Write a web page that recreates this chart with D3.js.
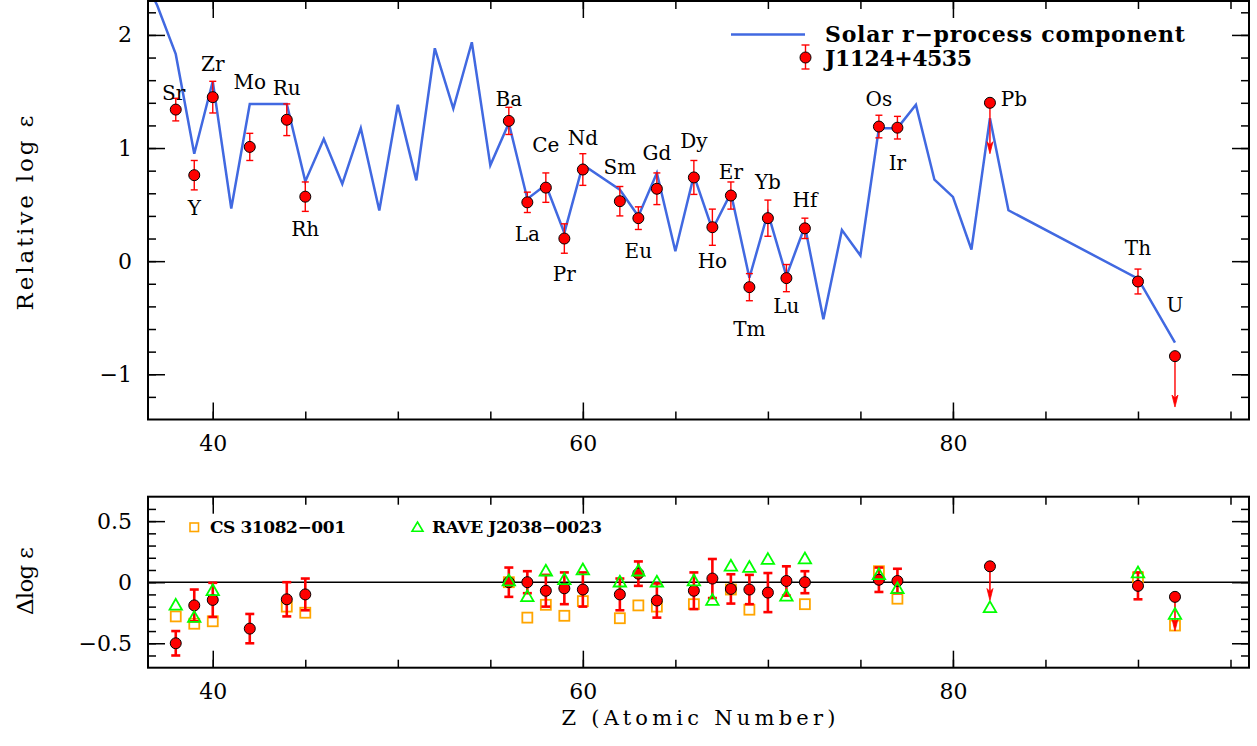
<!DOCTYPE html>
<html>
<head>
<meta charset="utf-8">
<script src="https://cdn.jsdelivr.net/npm/d3@7"></script>
<style>
  body { margin: 0; background: #fff; }
  svg { display: block; font-family: 'DejaVu Serif', serif; }
</style>
</head>
<body>
<svg id="chart" width="1257" height="746"></svg>
<script>
// J1124+4535 abundances, relative to the solar r-process pattern
const elements = ['Sr', 'Y', 'Zr', 'Mo', 'Ru', 'Rh', 'Ba', 'La', 'Ce', 'Pr', 'Nd', 'Sm', 'Eu', 'Gd', 'Dy', 'Ho', 'Er', 'Tm', 'Yb', 'Lu', 'Hf', 'Os', 'Ir', 'Pb', 'Th', 'U']
const atomicNumbers = [38, 39, 40, 42, 44, 45, 56, 57, 58, 59, 60, 62, 63, 64, 66, 67, 68, 69, 70, 71, 72, 76, 77, 82, 90, 92]
const relLogEps = [1.34, 0.76, 1.45, 1.01, 1.25, 0.57, 1.24, 0.52, 0.65, 0.20, 0.81, 0.53, 0.38, 0.64, 0.74, 0.30, 0.58, -0.23, 0.38, -0.15, 0.29, 1.19, 1.18, 1.40, -0.18, -0.84]
const relErr = [0.10, 0.13, 0.14, 0.12, 0.14, 0.13, 0.12, 0.09, 0.13, 0.13, 0.14, 0.13, 0.10, 0.14, 0.15, 0.16, 0.12, 0.12, 0.16, 0.12, 0.09, 0.10, 0.10, 0, 0.11, 0]
const upperLimits = ['Pb', 'U']

// solar r-process component (scaled)
const solarZ = [36, 37, 38, 39, 40, 41, 42, 44, 45, 46, 47, 48, 49, 50, 51, 52, 53, 54, 55, 56, 57, 58, 59, 60, 62, 63, 64, 65, 66, 67, 68, 69, 70, 71, 72, 73, 74, 75, 76, 77, 78, 79, 80, 81, 82, 83, 90, 92]
const solarLogEps = [2.60, 2.26, 1.83, 0.95, 1.59, 0.465, 1.39, 1.39, 0.705, 1.08, 0.683, 1.176, 0.447, 1.382, 0.714, 1.882, 1.349, 1.935, 0.847, 1.22, 0.55, 0.676, 0.25, 0.853, 0.632, 0.397, 0.78, 0.088, 0.758, 0.28, 0.603, -0.147, 0.427, -0.132, 0.309, -0.514, 0.275, 0.05, 1.176, 1.176, 1.382, 0.72, 0.568, 0.103, 1.264, 0.45, -0.155, -0.72]

// differences in the lower panel
const deltaJ1124 = [-0.50, -0.19, -0.145, -0.38, -0.14, -0.10, 0.00, 0.00, -0.07, -0.05, -0.06, -0.10, 0.07, -0.15, -0.07, 0.03, -0.055, -0.06, -0.085, 0.01, 0.00, 0.02, 0.01, 0.13, -0.03, -0.12]
const csZ = [38, 39, 40, 44, 45, 56, 57, 58, 59, 60, 62, 63, 64, 66, 68, 69, 72, 76, 77, 90, 92]
const csDelta = [-0.28, -0.34, -0.32, -0.20, -0.25, 0.00, -0.29, -0.185, -0.275, -0.155, -0.295, -0.19, -0.20, -0.18, -0.06, -0.225, -0.18, 0.09, -0.135, 0.04, -0.355]
const raveZ = [38, 39, 40, 56, 57, 58, 59, 60, 62, 63, 64, 66, 67, 68, 69, 70, 71, 72, 76, 77, 82, 90, 92]
const raveDelta = [-0.19, -0.29, -0.07, 0.01, -0.12, 0.09, 0.02, 0.10, 0.00, 0.09, 0.00, 0.01, -0.15, 0.13, 0.12, 0.185, -0.115, 0.19, 0.06, -0.055, -0.21, 0.075, -0.265]

// label placement around each point (pixels)
const labelDx = [-2, 0, 0, 0, 0, 0, 0, 0, 0, 0, 0, 0, 0, 0, 0, 0, 0, 0, 0, 0, 0, 0, 0, 24, 0, 0]
const labelDy = [-17, 33, -33, -65, -32, 32, -22, 31, -43, 35, -32, -34, 33, -36, -37, 34, -24, 42, -36, 28, -29, -28, 35, -4, -34, -51]

const RED = '#ff0000'
const BLUE = '#4169e1'
const ORANGE = '#ffa500'
const GREEN = '#00ff00'

const svg = d3.select('#chart')

const x = d3.scaleLinear().domain([36.5, 96]).range([148, 1249])
const yTop = d3.scaleLinear().domain([-1.4, 2.3]).range([419.5, 1])
const yBot = d3.scaleLinear().domain([-0.7, 0.7]).range([667.7, 496.7])

const stars = elements.map((el, i) => ({
  el,
  z: atomicNumbers[i],
  v: relLogEps[i],
  err: relErr[i],
  delta: deltaJ1124[i],
  limit: upperLimits.includes(el),
  dx: labelDx[i],
  dy: labelDy[i]
}))

function frame (y, majors, minors, fmt) {
  const [x0, x1] = x.range()
  const [yb, yt] = y.range()
  const g = svg.append('g')
  const xMajor = [40, 60, 80]
  const xMinor = d3.range(40, 96, 5)

  const ax = (axis, tx, ty) => g.append('g').attr('transform', `translate(${tx},${ty})`).call(axis)

  ax(d3.axisBottom(x).tickValues(xMinor).tickSize(-8).tickFormat(''), 0, yb)
  ax(d3.axisBottom(x).tickValues(xMajor).tickSize(-17).tickPadding(16).tickFormat(d3.format('d')), 0, yb)
  ax(d3.axisTop(x).tickValues(xMinor).tickSize(-8).tickFormat(''), 0, yt)
  ax(d3.axisTop(x).tickValues(xMajor).tickSize(-17).tickFormat(''), 0, yt)
  ax(d3.axisLeft(y).tickValues(minors).tickSize(-8).tickFormat(''), x0, 0)
  ax(d3.axisLeft(y).tickValues(majors).tickSize(-17).tickPadding(16).tickFormat(fmt), x0, 0)
  ax(d3.axisRight(y).tickValues(minors).tickSize(-8).tickFormat(''), x1, 0)
  ax(d3.axisRight(y).tickValues(majors).tickSize(-17).tickFormat(''), x1, 0)

  g.selectAll('.domain').remove()
  g.selectAll('.tick line').attr('stroke', '#000').attr('stroke-width', 1.5)
  g.selectAll('.tick text')
    .attr('font-family', "'DejaVu Serif', serif")
    .attr('font-size', 22)
    .attr('fill', '#000')

  g.append('rect')
    .attr('x', x0).attr('y', yt)
    .attr('width', x1 - x0).attr('height', yb - yt)
    .attr('fill', 'none')
    .attr('stroke', '#000')
    .attr('stroke-width', 2)
}

function errorBars (g, data, y, val, width, cap) {
  const bars = g.selectAll(null)
    .data(data.filter(d => !d.limit && d.err > 0))
    .enter()
    .append('g')
    .attr('stroke', RED)
    .attr('stroke-width', width)

  bars.append('line')
    .attr('x1', d => x(d.z)).attr('x2', d => x(d.z))
    .attr('y1', d => y(val(d) - d.err)).attr('y2', d => y(val(d) + d.err))
  bars.append('line')
    .attr('x1', d => x(d.z) - cap).attr('x2', d => x(d.z) + cap)
    .attr('y1', d => y(val(d) + d.err)).attr('y2', d => y(val(d) + d.err))
  bars.append('line')
    .attr('x1', d => x(d.z) - cap).attr('x2', d => x(d.z) + cap)
    .attr('y1', d => y(val(d) - d.err)).attr('y2', d => y(val(d) - d.err))
}

function limitArrows (g, data, y, val, length, width) {
  const arrows = g.selectAll(null)
    .data(data.filter(d => d.limit))
    .enter()
    .append('g')

  arrows.append('line')
    .attr('x1', d => x(d.z)).attr('x2', d => x(d.z))
    .attr('y1', d => y(val(d))).attr('y2', d => y(val(d) - length) - 4)
    .attr('stroke', RED)
    .attr('stroke-width', width)
  arrows.append('path')
    .attr('d', d => {
      const tx = x(d.z)
      const ty = y(val(d) - length)
      return `M${tx},${ty} L${tx - 3},${ty - 12} L${tx},${ty - 9} L${tx + 3},${ty - 12} Z`
    })
    .attr('fill', RED)
    .attr('stroke', RED)
    .attr('stroke-width', 0.8)
}

// ---------- top panel ----------
svg.append('clipPath').attr('id', 'clip-top')
  .append('rect')
  .attr('x', x.range()[0]).attr('y', yTop.range()[1])
  .attr('width', x.range()[1] - x.range()[0])
  .attr('height', yTop.range()[0] - yTop.range()[1])

const topPanel = svg.append('g')

const solar = solarZ.map((z, i) => [z, solarLogEps[i]])
topPanel.append('path')
  .attr('clip-path', 'url(#clip-top)')
  .attr('d', d3.line().x(d => x(d[0])).y(d => yTop(d[1]))(solar))
  .attr('fill', 'none')
  .attr('stroke', BLUE)
  .attr('stroke-width', 2.5)
  .attr('stroke-linejoin', 'miter')

errorBars(topPanel, stars, yTop, d => d.v, 1.4, 3.5)
limitArrows(topPanel, stars, yTop, d => d.v, 0.45, 1.4)

topPanel.selectAll('circle')
  .data(stars)
  .enter()
  .append('circle')
  .attr('cx', d => x(d.z))
  .attr('cy', d => yTop(d.v))
  .attr('r', 5.5)
  .attr('fill', RED)
  .attr('stroke', '#000')
  .attr('stroke-width', 1)

topPanel.selectAll('text.el')
  .data(stars)
  .enter()
  .append('text')
  .attr('class', 'el')
  .attr('x', d => x(d.z) + d.dx)
  .attr('y', d => yTop(d.v) + d.dy)
  .attr('dy', '0.36em')
  .attr('text-anchor', 'middle')
  .attr('font-size', 20)
  .text(d => d.el)

frame(yTop, [-1, 0, 1, 2], d3.range(-6, 12).map(i => i * 0.2), d3.format('d'))

// legend
const legend = svg.append('g').attr('font-weight', 'bold').attr('font-size', 22)
legend.append('line')
  .attr('x1', 731).attr('x2', 805).attr('y1', 34.5).attr('y2', 34.5)
  .attr('stroke', BLUE).attr('stroke-width', 2.5)
legend.append('text')
  .attr('x', 825).attr('y', 42)
  .attr('textLength', 360).attr('lengthAdjust', 'spacing')
  .text('Solar r−process component')
legend.append('g').attr('stroke', RED).attr('stroke-width', 1.4)
  .call(g => {
    g.append('line').attr('x1', 805.5).attr('x2', 805.5).attr('y1', 45).attr('y2', 69)
    g.append('line').attr('x1', 801.5).attr('x2', 809.5).attr('y1', 45).attr('y2', 45)
    g.append('line').attr('x1', 801.5).attr('x2', 809.5).attr('y1', 69).attr('y2', 69)
  })
legend.append('circle')
  .attr('cx', 805.5).attr('cy', 57.5).attr('r', 5.5)
  .attr('fill', RED).attr('stroke', '#000').attr('stroke-width', 1)
legend.append('text')
  .attr('x', 825).attr('y', 65.5)
  .attr('textLength', 147).attr('lengthAdjust', 'spacing')
  .text('J1124+4535')

// ---------- bottom panel ----------
const bottomPanel = svg.append('g')

bottomPanel.append('line')
  .attr('x1', x.range()[0]).attr('x2', x.range()[1])
  .attr('y1', yBot(0)).attr('y2', yBot(0))
  .attr('stroke', '#000').attr('stroke-width', 1.5)

const cs = csZ.map((z, i) => ({ z, v: csDelta[i] }))
const rave = raveZ.map((z, i) => ({ z, v: raveDelta[i] }))

bottomPanel.selectAll('rect.cs')
  .data(cs)
  .enter()
  .append('rect')
  .attr('class', 'cs')
  .attr('x', d => x(d.z) - 5)
  .attr('y', d => yBot(d.v) - 5)
  .attr('width', 10).attr('height', 10)
  .attr('fill', 'none')
  .attr('stroke', ORANGE)
  .attr('stroke-width', 1.8)

errorBars(bottomPanel, stars, yBot, d => d.delta, 2.6, 4.5)
limitArrows(bottomPanel, stars, yBot, d => d.delta, 0.28, 1.6)

bottomPanel.selectAll('circle')
  .data(stars)
  .enter()
  .append('circle')
  .attr('cx', d => x(d.z))
  .attr('cy', d => yBot(d.delta))
  .attr('r', 5.5)
  .attr('fill', RED)
  .attr('stroke', '#000')
  .attr('stroke-width', 1)

const tri = 'M0,-6.5 L6.2,4.3 L-6.2,4.3 Z'
bottomPanel.selectAll('path.rave')
  .data(rave)
  .enter()
  .append('path')
  .attr('class', 'rave')
  .attr('transform', d => `translate(${x(d.z)},${yBot(d.v)})`)
  .attr('d', tri)
  .attr('fill', 'none')
  .attr('stroke', GREEN)
  .attr('stroke-width', 1.8)

frame(yBot, [-0.5, 0, 0.5], d3.range(-6, 7).map(i => i * 0.1), d => d === 0 ? '0' : d3.format('.1f')(d))

// lower legend
const legend2 = svg.append('g').attr('font-weight', 'bold').attr('font-size', 17)
legend2.append('rect')
  .attr('x', 190).attr('y', 523).attr('width', 8.5).attr('height', 8.5)
  .attr('fill', 'none').attr('stroke', ORANGE).attr('stroke-width', 1.6)
legend2.append('text')
  .attr('x', 210).attr('y', 532.5)
  .attr('textLength', 136).attr('lengthAdjust', 'spacing')
  .text('CS 31082−001')
legend2.append('path')
  .attr('transform', 'translate(417.5,527.5)')
  .attr('d', 'M0,-5.5 L5.5,3.8 L-5.5,3.8 Z')
  .attr('fill', 'none').attr('stroke', GREEN).attr('stroke-width', 1.6)
legend2.append('text')
  .attr('x', 432).attr('y', 532.5)
  .attr('textLength', 170).attr('lengthAdjust', 'spacing')
  .text('RAVE J2038−0023')

// ---------- axis titles ----------
svg.append('text')
  .attr('x', 698.5).attr('y', 725)
  .attr('text-anchor', 'middle')
  .attr('font-size', 21)
  .attr('textLength', 274).attr('lengthAdjust', 'spacing')
  .text('Z (Atomic Number)')

svg.append('text')
  .attr('transform', 'translate(33,213) rotate(-90)')
  .attr('text-anchor', 'middle')
  .attr('font-size', 23)
  .attr('textLength', 195).attr('lengthAdjust', 'spacing')
  .text('Relative log ε')

svg.append('text')
  .attr('transform', 'translate(33,581) rotate(-90)')
  .attr('text-anchor', 'middle')
  .attr('font-size', 23)
  .attr('textLength', 68).attr('lengthAdjust', 'spacing')
  .text('Δlog ε')
</script>
</body>
</html>
